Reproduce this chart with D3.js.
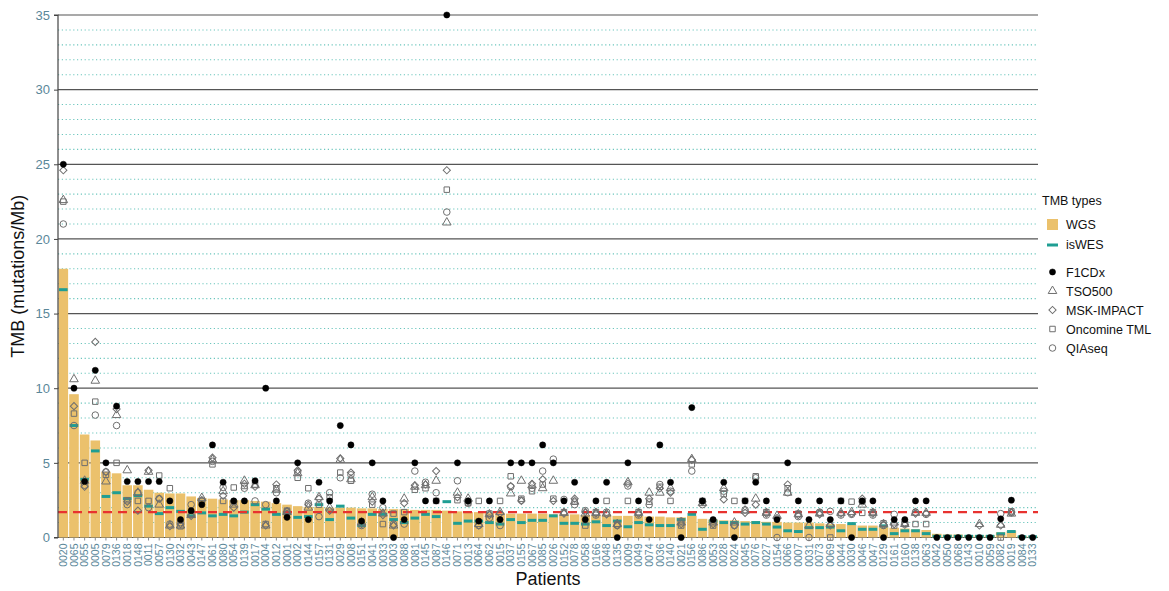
<!DOCTYPE html>
<html>
<head>
<meta charset="utf-8">
<script src="https://cdn.jsdelivr.net/npm/d3@7/dist/d3.min.js"></script>
<style>
  html, body { margin: 0; padding: 0; background: #fff; }
  svg { display: block; font-family: "Liberation Sans", Arial, sans-serif; }
</style>
</head>
<body>
<svg id="chart" width="1169" height="591"></svg>
<script>
// Patients, ordered by WGS TMB
const patients = ["0020","0065","0055","0005","0079","0136","0018","0148","0011","0057","0130","0032","0043","0147","0061","0080","0054","0139","0017","0004","0012","0001","0002","0144","0157","0131","0029","0008","0151","0041","0033","0003","0088","0081","0145","0087","0146","0071","0013","0064","0062","0015","0037","0155","0067","0085","0026","0152","0078","0058","0166","0048","0135","0009","0049","0074","0036","0140","0021","0156","0086","0053","0028","0024","0045","0076","0027","0154","0066","0007","0031","0073","0069","0044","0030","0046","0047","0129","0161","0160","0138","0063","0042","0050","0068","0143","0010","0059","0082","0019","0084","0133"];

// WGS TMB (bars)
const wgs = [18.0,9.6,6.9,6.5,4.4,4.3,3.5,3.5,3.2,3.0,2.95,2.95,2.75,2.65,2.6,2.55,2.5,2.5,2.45,2.4,2.3,2.2,2.1,2.05,2.05,2.0,2.0,2.0,1.95,1.95,1.9,1.9,1.9,1.85,1.85,1.85,1.8,1.75,1.7,1.7,1.65,1.65,1.6,1.6,1.6,1.6,1.55,1.55,1.55,1.5,1.5,1.5,1.45,1.45,1.45,1.4,1.4,1.35,1.35,1.45,1.25,1.2,1.15,1.15,1.1,1.1,1.05,1.05,1.0,1.0,1.0,0.95,0.9,0.9,0.85,0.8,0.8,0.7,0.65,0.6,0.55,0.5,0.25,0.2,0.2,0.15,0.15,0.15,0.35,0.45,0.1,0.1];

// In-silico WES TMB
const isWES = [16.6,7.5,3.9,5.8,2.75,3.0,2.6,2.8,2.1,1.6,2.0,1.75,1.45,1.65,1.45,1.55,1.45,1.7,2.2,1.9,1.55,1.65,1.35,1.4,2.2,1.2,2.1,1.3,0.8,1.55,1.55,1.2,1.0,1.3,1.55,1.4,2.4,0.95,1.1,1.1,1.0,0.9,1.2,1.0,1.15,1.15,1.45,0.95,0.95,0.9,1.05,0.8,1.1,0.72,1.0,0.85,0.8,0.8,1.2,1.55,0.55,1.1,1.0,1.0,0.9,1.0,0.9,0.7,0.45,0.4,0.66,0.66,0.7,0.45,0.93,0.55,0.55,0.78,0.26,0.45,0.45,0.26,0.08,0.08,0.08,0.08,0.08,0.08,0.25,0.4,0.05,0.05];

// Panel assays (null = not reported)
const f1cdx = [25.0,10.0,3.75,11.2,5.0,8.8,3.75,3.75,3.75,3.75,2.45,1.2,1.8,2.2,6.2,3.7,2.45,2.45,3.8,10.0,2.45,1.35,5.0,1.2,3.7,2.45,7.5,6.2,1.1,5.0,2.45,0,1.2,5.0,2.45,2.45,35.0,5.0,2.45,1.1,2.45,1.2,5.0,5.0,5.0,6.2,5.0,2.45,3.7,1.2,2.45,3.7,0,5.0,2.45,1.2,6.2,3.7,0,8.7,2.45,1.2,3.7,0,2.45,3.7,2.45,1.2,5.0,2.45,1.2,2.45,1.2,2.45,0,2.45,2.45,0,1.2,1.2,2.45,2.45,0,0,0,0,0,0,1.25,2.5,0,0];
const tso500 = [22.6,10.6,3.8,10.5,3.75,8.2,4.5,3.0,4.4,2.2,0.8,0.8,1.5,2.65,5.2,3.1,2.2,3.8,3.5,0.8,3.2,1.7,4.3,2.0,2.7,2.0,5.2,3.9,1.0,2.7,1.6,0.8,2.6,3.4,3.5,3.8,21.1,3.0,2.6,0.9,1.55,1.7,2.95,3.8,3.5,3.3,3.8,1.65,2.4,1.6,1.65,1.6,0.9,3.7,1.65,3.0,3.0,3.3,1.0,5.25,2.3,1.0,3.3,1.0,1.8,2.6,1.65,1.45,3.0,1.55,0.8,1.6,0.9,1.65,1.7,2.2,1.65,0.9,1.0,0.9,1.65,1.65,null,null,null,null,0.9,null,0.85,1.6,null,null];
const mskImpact = [24.6,8.8,3.4,13.1,4.4,8.6,2.4,1.8,4.5,2.6,0.75,0.9,1.45,2.5,5.35,2.8,2.0,3.6,3.4,0.8,3.55,1.6,4.5,2.2,2.6,1.8,5.3,4.35,0.9,2.4,1.5,0.8,2.3,3.5,3.55,4.45,24.6,2.7,2.4,0.8,1.5,1.6,3.45,2.45,3.6,3.9,2.45,1.6,2.6,1.7,1.6,1.55,0.8,3.6,1.6,2.6,3.3,3.0,0.9,5.2,2.4,0.9,2.55,0.8,1.65,2.2,1.6,1.3,3.55,1.5,null,1.55,0.8,1.6,1.6,2.6,1.6,0.85,0.9,0.85,1.6,1.6,null,null,null,null,0.8,null,0.8,1.7,null,null];
const oncomine = [22.5,8.3,5.0,9.1,4.2,5.0,2.5,2.45,2.45,4.15,3.3,0.75,1.6,2.45,4.9,2.45,3.35,3.45,3.55,0.9,3.3,1.8,4.0,3.3,2.2,2.7,4.35,3.8,null,2.2,0.9,1.6,1.7,3.2,3.3,2.45,23.3,2.5,2.3,2.45,1.6,2.45,4.1,2.6,3.1,3.55,2.6,1.7,2.4,0.8,1.7,2.45,0.9,2.45,1.7,2.4,3.4,2.45,0.8,4.9,2.45,0.8,2.9,2.45,2.45,4.1,1.7,null,3.3,1.6,null,1.65,0,2.45,2.4,1.65,1.7,0.95,0.8,0.9,0.9,0.9,null,null,null,null,null,null,0,1.75,null,null];
const qiaseq = [21.0,7.5,3.5,8.2,4.4,7.5,2.2,3.0,2.0,2.6,0.9,1.0,2.2,2.45,5.1,3.35,2.4,3.3,2.45,2.2,3.0,1.75,4.4,2.3,1.4,3.0,4.0,4.2,0.8,2.9,2.0,0.9,0.9,4.45,3.7,3.0,21.8,3.8,2.3,0.8,1.3,0.8,3.4,2.5,3.3,4.45,5.25,2.55,2.2,1.8,1.5,1.7,0.8,3.45,1.5,2.2,3.55,3.1,1.1,4.45,2.2,1.1,3.1,0.8,1.85,4.0,1.5,0,3.0,1.4,0,1.7,1.75,1.5,1.55,2.4,1.5,0.8,1.55,1.0,1.7,1.55,null,null,null,null,null,null,1.6,1.65,null,null];

const yTicks = [0,5,10,15,20,25,30,35];
const cutoff = 1.7;

const svg = d3.select("#chart");
const margin = { left: 58, right: 131, top: 15, bottom: 54 };
const W = 1169, H = 591;
const x0 = margin.left, x1 = W - margin.right, yTop = margin.top, yBot = H - margin.bottom + 0.5;

const x = d3.scaleBand().domain(patients).range([x0, x1]).paddingInner(0.1).paddingOuter(0.05);
const y = d3.scaleLinear().domain([0, 35]).range([yBot, yTop]);

// minor dotted grid (every 1 unit)
const minor = d3.range(1, 35).filter(v => v % 5 !== 0);
svg.append("g").selectAll("line").data(minor).join("line")
  .attr("x1", x0).attr("x2", x1)
  .attr("y1", d => y(d)).attr("y2", d => y(d))
  .attr("stroke", "#6cc6bd").attr("stroke-width", 1.1)
  .attr("stroke-dasharray", "1.2,2.6");

// major solid grid
svg.append("g").selectAll("line").data(yTicks).join("line")
  .attr("x1", x0).attr("x2", x1)
  .attr("y1", d => y(d)).attr("y2", d => y(d))
  .attr("stroke", "#555").attr("stroke-width", 1.2);

// WGS bars
svg.append("g").selectAll("rect").data(patients).join("rect")
  .attr("x", d => x(d))
  .attr("width", x.bandwidth())
  .attr("y", (d, i) => y(wgs[i]))
  .attr("height", (d, i) => y(0) - y(wgs[i]))
  .attr("fill", "#ebc16c");

// isWES ticks
svg.append("g").selectAll("line").data(patients).join("line")
  .attr("x1", d => x(d) + 0.5)
  .attr("x2", d => x(d) + x.bandwidth() - 0.5)
  .attr("y1", (d, i) => y(isWES[i]))
  .attr("y2", (d, i) => y(isWES[i]))
  .attr("stroke", "#1f9e93").attr("stroke-width", 3);

// cutoff line
svg.append("line")
  .attr("x1", x0).attr("x2", x1)
  .attr("y1", y(cutoff)).attr("y2", y(cutoff))
  .attr("stroke", "#e8322f").attr("stroke-width", 2.2)
  .attr("stroke-dasharray", "9,6");

// y axis
const yAxis = svg.append("g").attr("transform", `translate(${x0},0)`)
  .call(d3.axisLeft(y).tickValues(yTicks).tickSize(4).tickPadding(4));
yAxis.select(".domain").attr("stroke", "#444").attr("stroke-width", 1.2)
  .attr("d", `M-4,${yBot}H0V${yTop}H-4`);
yAxis.selectAll(".tick line").attr("stroke", "#444");
yAxis.selectAll(".tick text").attr("fill", "#5a8799").style("font-size", "13px")
  .style("font-family", "Liberation Sans, Arial, sans-serif");

// x axis labels
const xAxis = svg.append("g").attr("transform", `translate(0,${yBot})`)
  .call(d3.axisBottom(x).tickSize(3).tickPadding(2));
xAxis.select(".domain").remove();
xAxis.selectAll(".tick line").attr("stroke", "#888");
xAxis.selectAll(".tick text")
  .attr("fill", "#5a8799")
  .style("font-size", "10.5px")
  .style("font-family", "Liberation Sans, Arial, sans-serif")
  .attr("text-anchor", "end")
  .attr("transform", "rotate(-90)")
  .attr("x", -6).attr("y", 0).attr("dy", "0.35em");

// titles
svg.append("text")
  .attr("transform", `translate(24,${(yTop + yBot) / 2}) rotate(-90)`)
  .attr("text-anchor", "middle")
  .style("font-size", "18px").attr("fill", "#111")
  .text("TMB (mutations/Mb)");
svg.append("text")
  .attr("x", (x0 + x1) / 2).attr("y", 585)
  .attr("text-anchor", "middle")
  .style("font-size", "18px").attr("fill", "#111")
  .text("Patients");

// marker shapes
const shapes = {
  dot: d3.symbol(d3.symbolCircle, 30)(),
  tri: d3.symbol(d3.symbolTriangle, 32)(),
  dia: d3.symbol(d3.symbolSquare, 26)(),
  sq: d3.symbol(d3.symbolSquare, 30)(),
  circ: d3.symbol(d3.symbolCircle, 34)()
};
const series = [
  { name: "QIAseq", vals: qiaseq, shape: "circ", rot: 0, filled: false },
  { name: "Oncomine TML", vals: oncomine, shape: "sq", rot: 0, filled: false },
  { name: "MSK-IMPACT", vals: mskImpact, shape: "dia", rot: 45, filled: false },
  { name: "TSO500", vals: tso500, shape: "tri", rot: 0, filled: false },
  { name: "F1CDx", vals: f1cdx, shape: "dot", rot: 0, filled: true }
];
function styleMarker(sel, s) {
  sel.attr("d", shapes[s.shape])
    .attr("fill", s.filled ? "#000" : "none")
    .attr("stroke", s.filled ? "#000" : "#6f6f6f")
    .attr("stroke-width", s.filled ? 0.5 : 1);
}
series.forEach(s => {
  const pts = patients.map((p, i) => ({ p, v: s.vals[i] })).filter(d => d.v !== null);
  svg.append("g").selectAll("path").data(pts).join("path")
    .attr("transform", d => `translate(${x(d.p) + x.bandwidth() / 2},${y(d.v)}) rotate(${s.rot})`)
    .call(styleMarker, s);
});

// legend
const lg = svg.append("g").attr("transform", "translate(1042,0)");
lg.append("text").attr("x", 0).attr("y", 205).style("font-size", "12.5px").attr("fill", "#111").text("TMB types");
lg.append("rect").attr("x", 5).attr("y", 219).attr("width", 11).attr("height", 11).attr("fill", "#ebc16c");
lg.append("text").attr("x", 24).attr("y", 229).style("font-size", "12.5px").attr("fill", "#111").text("WGS");
lg.append("line").attr("x1", 5).attr("x2", 16).attr("y1", 245).attr("y2", 245).attr("stroke", "#1f9e93").attr("stroke-width", 3);
lg.append("text").attr("x", 24).attr("y", 249).style("font-size", "12.5px").attr("fill", "#111").text("isWES");
const legendOrder = ["F1CDx", "TSO500", "MSK-IMPACT", "Oncomine TML", "QIAseq"];
legendOrder.forEach((name, k) => {
  const s = series.find(d => d.name === name);
  const cy = 272 + k * 19;
  lg.append("path").attr("transform", `translate(10.5,${cy}) rotate(${s.rot})`).call(styleMarker, s);
  lg.append("text").attr("x", 24).attr("y", cy + 4.5).style("font-size", "12.5px").attr("fill", "#111").text(name);
});
</script>
</body>
</html>
